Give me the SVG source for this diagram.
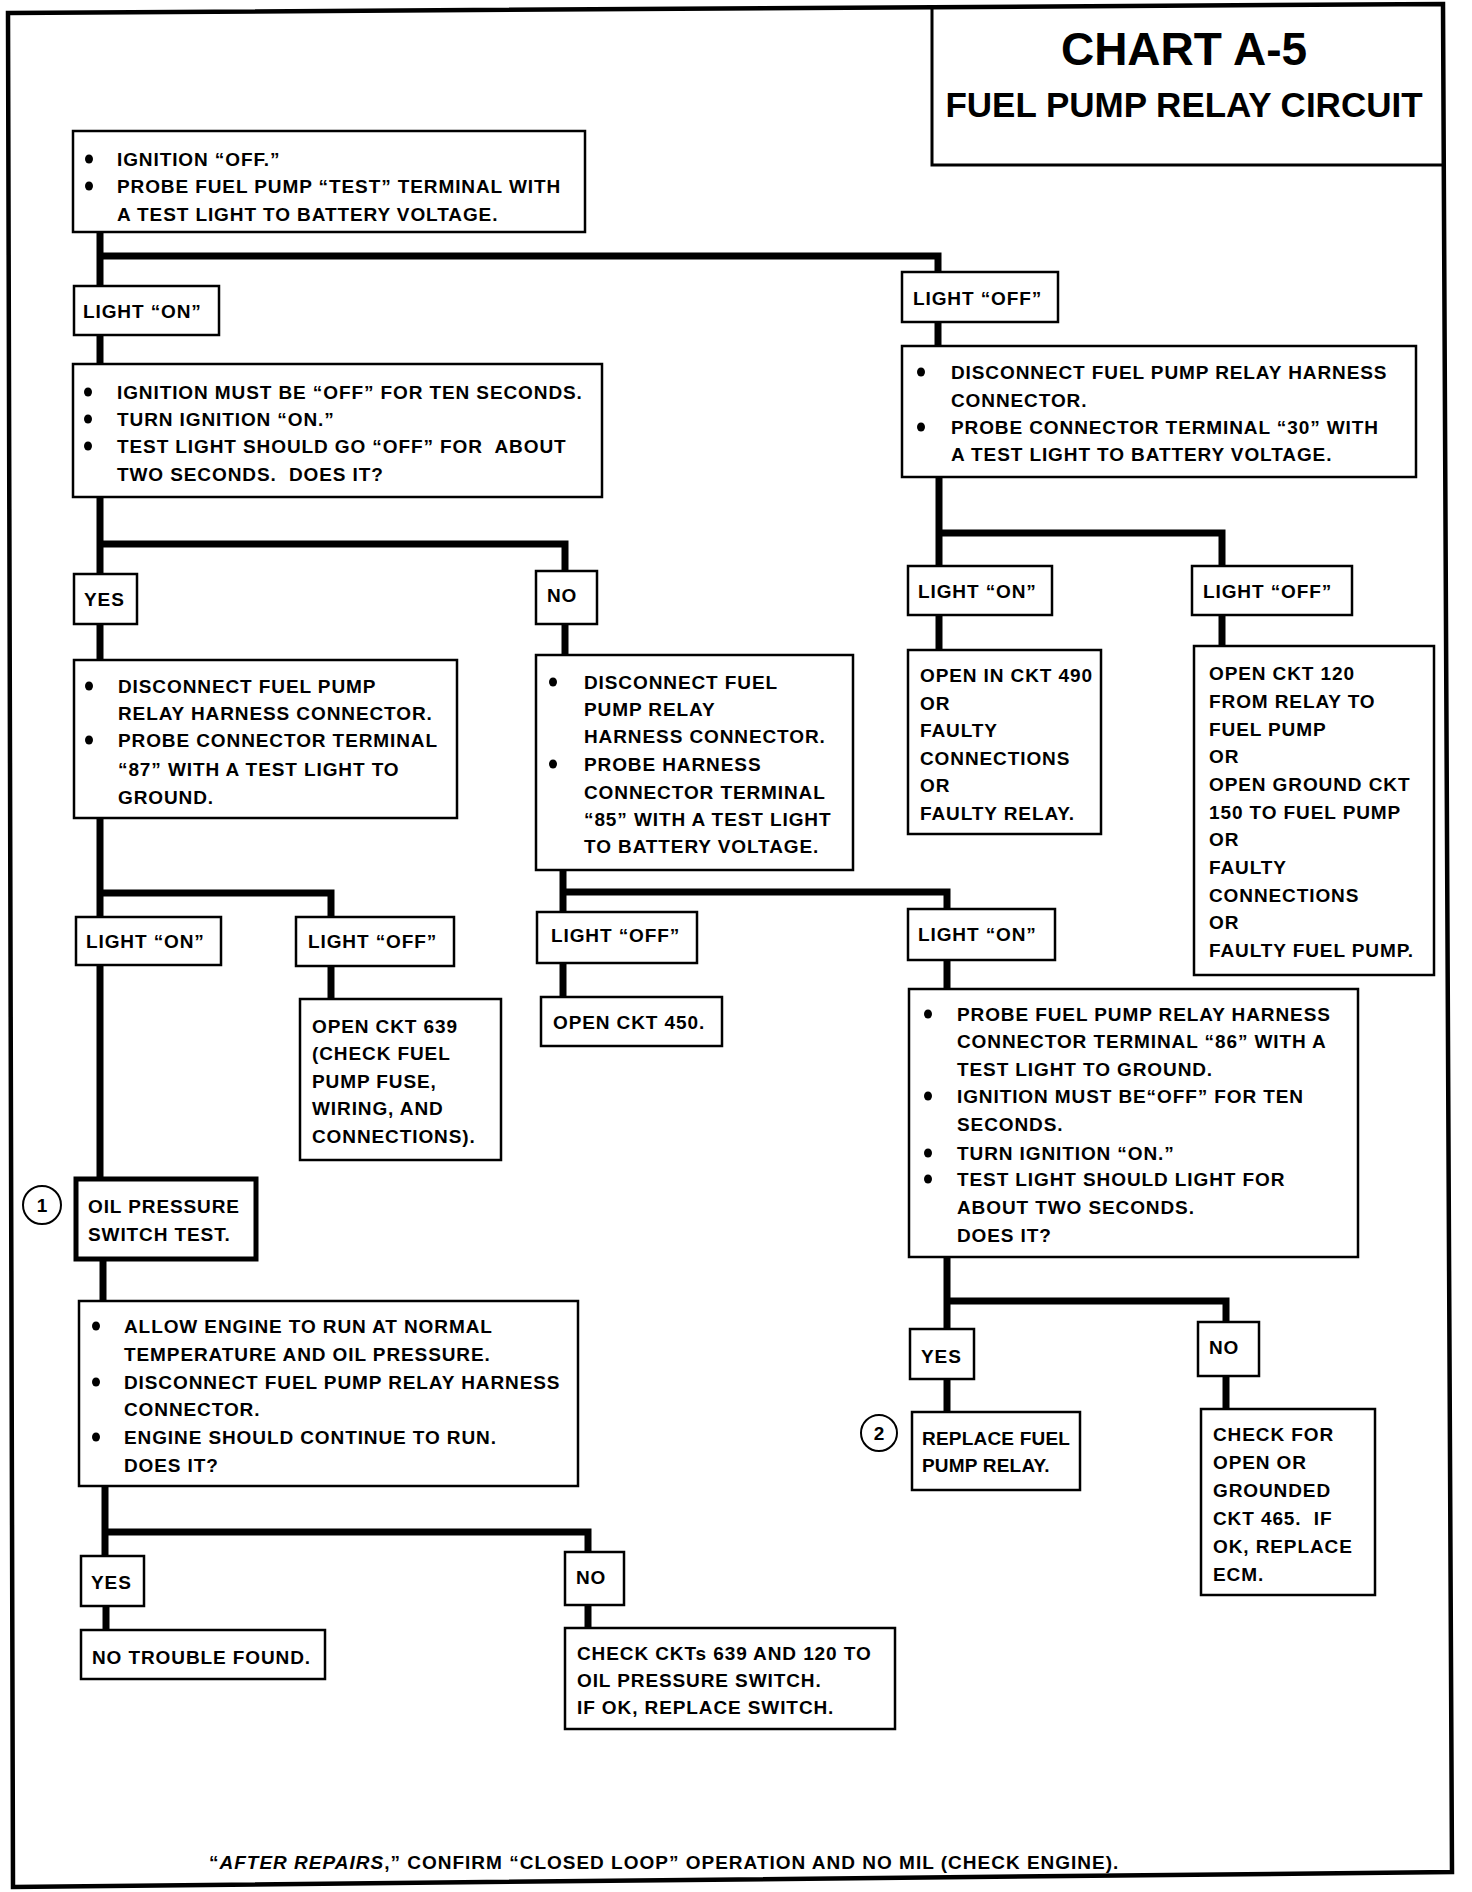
<svg xmlns="http://www.w3.org/2000/svg" width="1472" height="1892" viewBox="0 0 1472 1892">
<style>
.bg{fill:#fff}
.b{fill:#fff;stroke:#000;stroke-width:2.5}
.bk{fill:#fff;stroke:#000;stroke-width:5}
.t{font-family:"Liberation Sans",Arial,sans-serif;font-weight:bold;font-size:19px;letter-spacing:0.9px;fill:#000}
.c{fill:none;stroke:#000;stroke-width:7;stroke-linejoin:miter}
.d{fill:#000}
.ci{fill:#fff;stroke:#000;stroke-width:2}
</style>
<rect class="bg" x="0" y="0" width="1472" height="1892"/>
<polygon points="8,13 1443,4 1452,1872 13,1887" fill="none" stroke="#000" stroke-width="4.5"/>
<g id="title">
<path d="M932,6 V165 H1443" fill="none" stroke="#000" stroke-width="3"/>
<text class="t" x="1184" y="65" text-anchor="middle" style="font-size:46px;letter-spacing:0">CHART A-5</text>
<text class="t" x="1184" y="117" text-anchor="middle" style="font-size:35px;letter-spacing:0">FUEL PUMP RELAY CIRCUIT</text>
</g>
<g id="connectors">
<path class="c" d="M100,232 V286 M97,256 H938 V272"/>
<path class="c" d="M938,322 V346"/>
<path class="c" d="M100,335 V364"/>
<path class="c" d="M100,497 V574 M97,544 H565 V571"/>
<path class="c" d="M565,624 V655"/>
<path class="c" d="M100,624 V660"/>
<path class="c" d="M100,818 V917 M97,893 H331 V917"/>
<path class="c" d="M331,966 V999"/>
<path class="c" d="M563,870 V912 M560,892 H947 V909"/>
<path class="c" d="M563,963 V997"/>
<path class="c" d="M947,960 V989"/>
<path class="c" d="M100,965 V1179"/>
<path class="c" d="M103,1259 V1301"/>
<path class="c" d="M105,1486 V1556 M102,1532 H588 V1552"/>
<path class="c" d="M106,1606 V1630"/>
<path class="c" d="M588,1605 V1628"/>
<path class="c" d="M939,477 V566 M936,533 H1222 V566"/>
<path class="c" d="M939,615 V650"/>
<path class="c" d="M1222,615 V646"/>
<path class="c" d="M947,1257 V1329 M944,1301 H1226 V1322"/>
<path class="c" d="M947,1379 V1412"/>
<path class="c" d="M1226,1376 V1409"/>
</g>
<g id="n-start">
<rect class="b" x="73" y="131" width="512" height="101"/>
<ellipse class="d" cx="89" cy="159" rx="4" ry="4.5"/>
<ellipse class="d" cx="89" cy="186" rx="4" ry="4.5"/>
<text class="t"><tspan x="117" y="166">IGNITION “OFF.”</tspan><tspan x="117" y="193">PROBE FUEL PUMP “TEST” TERMINAL WITH</tspan><tspan x="117" y="221">A TEST LIGHT TO BATTERY VOLTAGE.</tspan></text>
</g>
<g id="n-lighton1">
<rect class="b" x="74" y="286" width="145" height="49"/>
<text class="t" x="83" y="318">LIGHT “ON”</text>
</g>
<g id="n-lightoff1">
<rect class="b" x="902" y="272" width="156" height="50"/>
<text class="t" x="913" y="305">LIGHT “OFF”</text>
</g>
<g id="n-ign">
<rect class="b" x="73" y="364" width="529" height="133"/>
<ellipse class="d" cx="88" cy="392" rx="4" ry="4.5"/>
<ellipse class="d" cx="88" cy="419" rx="4" ry="4.5"/>
<ellipse class="d" cx="88" cy="446" rx="4" ry="4.5"/>
<text class="t" xml:space="preserve"><tspan x="117" y="399">IGNITION MUST BE “OFF” FOR TEN SECONDS.</tspan><tspan x="117" y="426">TURN IGNITION “ON.”</tspan><tspan x="117" y="453">TEST LIGHT SHOULD GO “OFF” FOR  ABOUT</tspan><tspan x="117" y="481">TWO SECONDS.  DOES IT?</tspan></text>
</g>
<g id="n-yes1">
<rect class="b" x="74" y="574" width="63" height="50"/>
<text class="t" x="84" y="606">YES</text>
</g>
<g id="n-no1">
<rect class="b" x="536" y="571" width="61" height="53"/>
<text class="t" x="547" y="602">NO</text>
</g>
<g id="n-probe87">
<rect class="b" x="74" y="660" width="383" height="158"/>
<ellipse class="d" cx="89" cy="686" rx="4" ry="4.5"/>
<ellipse class="d" cx="89" cy="740" rx="4" ry="4.5"/>
<text class="t"><tspan x="118" y="693">DISCONNECT FUEL PUMP</tspan><tspan x="118" y="720">RELAY HARNESS CONNECTOR.</tspan><tspan x="118" y="747">PROBE CONNECTOR TERMINAL</tspan><tspan x="118" y="776">“87” WITH A TEST LIGHT TO</tspan><tspan x="118" y="804">GROUND.</tspan></text>
</g>
<g id="n-probe85">
<rect class="b" x="536" y="655" width="317" height="215"/>
<ellipse class="d" cx="553" cy="682" rx="4" ry="4.5"/>
<ellipse class="d" cx="553" cy="764" rx="4" ry="4.5"/>
<text class="t"><tspan x="584" y="689">DISCONNECT FUEL</tspan><tspan x="584" y="716">PUMP RELAY</tspan><tspan x="584" y="743">HARNESS CONNECTOR.</tspan><tspan x="584" y="771">PROBE HARNESS</tspan><tspan x="584" y="799">CONNECTOR TERMINAL</tspan><tspan x="584" y="826">“85” WITH A TEST LIGHT</tspan><tspan x="584" y="853">TO BATTERY VOLTAGE.</tspan></text>
</g>
<g id="n-lighton2">
<rect class="b" x="76" y="917" width="145" height="48"/>
<text class="t" x="86" y="948">LIGHT “ON”</text>
</g>
<g id="n-lightoff2">
<rect class="b" x="296" y="917" width="158" height="49"/>
<text class="t" x="308" y="948">LIGHT “OFF”</text>
</g>
<g id="n-lightoff3">
<rect class="b" x="537" y="912" width="160" height="51"/>
<text class="t" x="551" y="942">LIGHT “OFF”</text>
</g>
<g id="n-lighton3">
<rect class="b" x="908" y="909" width="147" height="51"/>
<text class="t" x="918" y="941">LIGHT “ON”</text>
</g>
<g id="n-ckt639">
<rect class="b" x="300" y="999" width="201" height="161"/>
<text class="t"><tspan x="312" y="1033">OPEN CKT 639</tspan><tspan x="312" y="1060">(CHECK FUEL</tspan><tspan x="312" y="1088">PUMP FUSE,</tspan><tspan x="312" y="1115">WIRING, AND</tspan><tspan x="312" y="1143">CONNECTIONS).</tspan></text>
</g>
<g id="n-ckt450">
<rect class="b" x="541" y="997" width="181" height="49"/>
<text class="t" x="553" y="1029">OPEN CKT 450.</text>
</g>
<g id="n-probe86">
<rect class="b" x="909" y="989" width="449" height="268"/>
<ellipse class="d" cx="928" cy="1014" rx="4" ry="4.5"/>
<ellipse class="d" cx="928" cy="1096" rx="4" ry="4.5"/>
<ellipse class="d" cx="928" cy="1153" rx="4" ry="4.5"/>
<ellipse class="d" cx="928" cy="1179" rx="4" ry="4.5"/>
<text class="t"><tspan x="957" y="1021">PROBE FUEL PUMP RELAY HARNESS</tspan><tspan x="957" y="1048">CONNECTOR TERMINAL “86” WITH A</tspan><tspan x="957" y="1076">TEST LIGHT TO GROUND.</tspan><tspan x="957" y="1103">IGNITION MUST BE“OFF” FOR TEN</tspan><tspan x="957" y="1131">SECONDS.</tspan><tspan x="957" y="1160">TURN IGNITION “ON.”</tspan><tspan x="957" y="1186">TEST LIGHT SHOULD LIGHT FOR</tspan><tspan x="957" y="1214">ABOUT TWO SECONDS.</tspan><tspan x="957" y="1242">DOES IT?</tspan></text>
</g>
<g id="n-oil">
<circle class="ci" cx="42" cy="1205" r="19"/>
<text class="t" x="42" y="1212" text-anchor="middle" style="letter-spacing:0">1</text>
<rect class="bk" x="76" y="1179" width="180" height="80"/>
<text class="t"><tspan x="88" y="1213">OIL PRESSURE</tspan><tspan x="88" y="1241">SWITCH TEST.</tspan></text>
</g>
<g id="n-engine">
<rect class="b" x="79" y="1301" width="499" height="185"/>
<ellipse class="d" cx="96" cy="1326" rx="4" ry="4.5"/>
<ellipse class="d" cx="96" cy="1382" rx="4" ry="4.5"/>
<ellipse class="d" cx="96" cy="1437" rx="4" ry="4.5"/>
<text class="t"><tspan x="124" y="1333">ALLOW ENGINE TO RUN AT NORMAL</tspan><tspan x="124" y="1361">TEMPERATURE AND OIL PRESSURE.</tspan><tspan x="124" y="1389">DISCONNECT FUEL PUMP RELAY HARNESS</tspan><tspan x="124" y="1416">CONNECTOR.</tspan><tspan x="124" y="1444">ENGINE SHOULD CONTINUE TO RUN.</tspan><tspan x="124" y="1472">DOES IT?</tspan></text>
</g>
<g id="n-yes3">
<rect class="b" x="81" y="1556" width="63" height="50"/>
<text class="t" x="91" y="1589">YES</text>
</g>
<g id="n-no3">
<rect class="b" x="565" y="1552" width="59" height="53"/>
<text class="t" x="576" y="1584">NO</text>
</g>
<g id="n-notrouble">
<rect class="b" x="81" y="1630" width="244" height="49"/>
<text class="t" x="92" y="1664">NO TROUBLE FOUND.</text>
</g>
<g id="n-checkckts">
<rect class="b" x="565" y="1628" width="330" height="101"/>
<text class="t"><tspan x="577" y="1660">CHECK CKTs 639 AND 120 TO</tspan><tspan x="577" y="1687">OIL PRESSURE SWITCH.</tspan><tspan x="577" y="1714">IF OK, REPLACE SWITCH.</tspan></text>
</g>
<g id="n-yes2">
<rect class="b" x="910" y="1329" width="64" height="50"/>
<text class="t" x="921" y="1363">YES</text>
</g>
<g id="n-no2">
<rect class="b" x="1198" y="1322" width="61" height="54"/>
<text class="t" x="1209" y="1354">NO</text>
</g>
<g id="n-replace">
<circle class="ci" cx="879" cy="1433" r="18"/>
<text class="t" x="879" y="1440" text-anchor="middle" style="letter-spacing:0">2</text>
<rect class="b" x="912" y="1412" width="168" height="78"/>
<text class="t" style="letter-spacing:0.2px"><tspan x="922" y="1445">REPLACE FUEL</tspan><tspan x="922" y="1472">PUMP RELAY.</tspan></text>
</g>
<g id="n-checkfor">
<rect class="b" x="1201" y="1409" width="174" height="186"/>
<text class="t" xml:space="preserve"><tspan x="1213" y="1441">CHECK FOR</tspan><tspan x="1213" y="1469">OPEN OR</tspan><tspan x="1213" y="1497">GROUNDED</tspan><tspan x="1213" y="1525">CKT 465.  IF</tspan><tspan x="1213" y="1553">OK, REPLACE</tspan><tspan x="1213" y="1581">ECM.</tspan></text>
</g>
<g id="n-probe30">
<rect class="b" x="902" y="346" width="514" height="131"/>
<ellipse class="d" cx="921" cy="372" rx="4" ry="4.5"/>
<ellipse class="d" cx="921" cy="427" rx="4" ry="4.5"/>
<text class="t"><tspan x="951" y="379">DISCONNECT FUEL PUMP RELAY HARNESS</tspan><tspan x="951" y="407">CONNECTOR.</tspan><tspan x="951" y="434">PROBE CONNECTOR TERMINAL “30” WITH</tspan><tspan x="951" y="461">A TEST LIGHT TO BATTERY VOLTAGE.</tspan></text>
</g>
<g id="n-lighton4">
<rect class="b" x="908" y="566" width="144" height="49"/>
<text class="t" x="918" y="598">LIGHT “ON”</text>
</g>
<g id="n-lightoff4">
<rect class="b" x="1192" y="566" width="160" height="49"/>
<text class="t" x="1203" y="598">LIGHT “OFF”</text>
</g>
<g id="n-ckt490">
<rect class="b" x="908" y="650" width="193" height="184"/>
<text class="t"><tspan x="920" y="682">OPEN IN CKT 490</tspan><tspan x="920" y="710">OR</tspan><tspan x="920" y="737">FAULTY</tspan><tspan x="920" y="765">CONNECTIONS</tspan><tspan x="920" y="792">OR</tspan><tspan x="920" y="820">FAULTY RELAY.</tspan></text>
</g>
<g id="n-ckt120">
<rect class="b" x="1194" y="646" width="240" height="329"/>
<text class="t"><tspan x="1209" y="680">OPEN CKT 120</tspan><tspan x="1209" y="708">FROM RELAY TO</tspan><tspan x="1209" y="736">FUEL PUMP</tspan><tspan x="1209" y="763">OR</tspan><tspan x="1209" y="791">OPEN GROUND CKT</tspan><tspan x="1209" y="819">150 TO FUEL PUMP</tspan><tspan x="1209" y="846">OR</tspan><tspan x="1209" y="874">FAULTY</tspan><tspan x="1209" y="902">CONNECTIONS</tspan><tspan x="1209" y="929">OR</tspan><tspan x="1209" y="957">FAULTY FUEL PUMP.</tspan></text>
</g>
<g id="footer">
<text class="t" x="209" y="1869" style="letter-spacing:1px">“<tspan font-style="italic">AFTER REPAIRS</tspan>,” CONFIRM “CLOSED LOOP” OPERATION AND NO MIL (CHECK ENGINE).</text>
</g>
</svg>
